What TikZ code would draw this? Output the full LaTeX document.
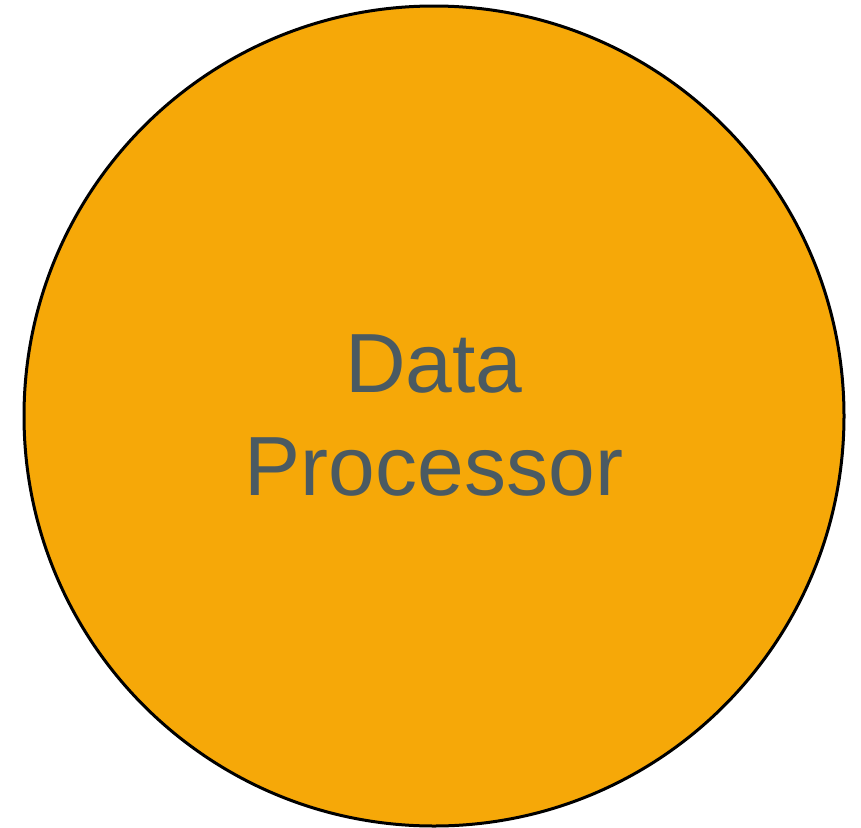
\documentclass[tikz,border=0pt]{standalone}
\usepackage{fontspec}
\setmainfont{Liberation Sans}
\definecolor{procfill}{HTML}{F6A808}
\definecolor{proctext}{HTML}{4A5A62}
\tikzset{
  procnode/.style={circle, draw=black, line width=3pt, fill=procfill,
    minimum size=820pt, inner sep=0pt, align=center, text=proctext,
    font=\fontsize{84}{103}\selectfont}
}
\begin{document}
\begin{tikzpicture}[x=1pt,y=-1pt]
  \useasboundingbox (0,0) rectangle (861,827);
  \node[procnode] (proc) at (434,416) {Data\\Processor};
\end{tikzpicture}
\end{document}
